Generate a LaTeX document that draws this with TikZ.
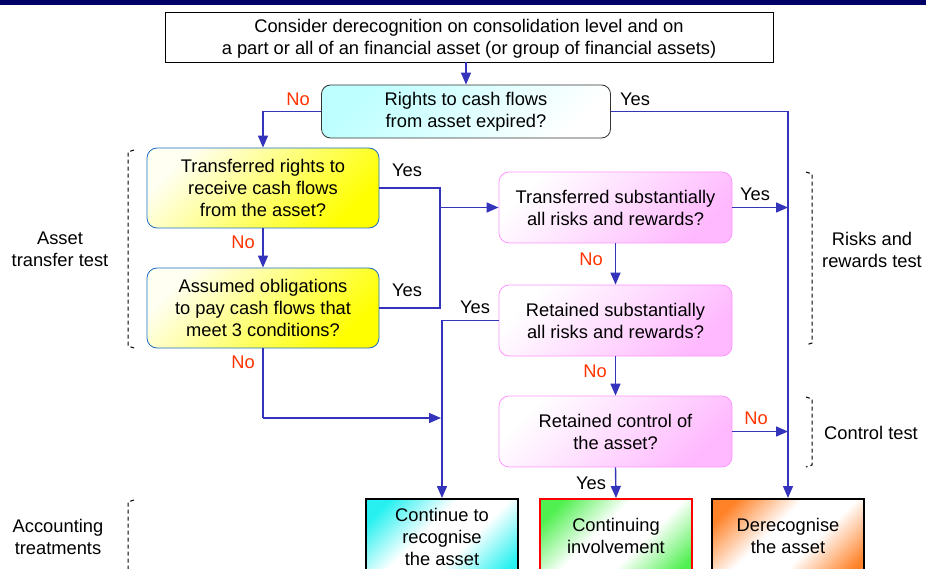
\documentclass[tikz,border=0pt]{standalone}
\usepackage{fontspec}
\setmainfont{Liberation Sans}
\usetikzlibrary{arrows.meta,positioning}
\definecolor{navy}{RGB}{0,0,102}
\definecolor{lineblue}{RGB}{51,51,187}
\definecolor{noRed}{RGB}{255,51,0}
\definecolor{boxBlue}{RGB}{30,110,200}
\definecolor{pinkB}{RGB}{255,150,255}
\definecolor{pinkF}{RGB}{255,185,255}
\definecolor{cyanF}{RGB}{190,255,255}
\definecolor{contCyan}{RGB}{40,240,240}
\definecolor{contGreen}{RGB}{80,240,80}
\definecolor{contOrange}{RGB}{255,130,40}
\pgfdeclareverticalshading{cyanfade}{100bp}{color(0bp)=(contCyan); color(22bp)=(contCyan); color(42bp)=(white); color(58bp)=(white); color(78bp)=(contCyan); color(100bp)=(contCyan)}
\pgfdeclareverticalshading{greenfade}{100bp}{color(0bp)=(contGreen); color(22bp)=(contGreen); color(42bp)=(white); color(58bp)=(white); color(78bp)=(contGreen); color(100bp)=(contGreen)}
\pgfdeclareverticalshading{orangefade}{100bp}{color(0bp)=(contOrange); color(22bp)=(contOrange); color(42bp)=(white); color(58bp)=(white); color(78bp)=(contOrange); color(100bp)=(contOrange)}
\tikzset{
  every node/.style={font=\fontsize{18.3}{22}\selectfont, align=center},
  topbox/.style={draw=black, thick, fill=white, minimum width=608pt, minimum height=50pt, inner sep=0pt},
  cyanbox/.style={draw=black!80, thick, rounded corners=9pt, top color=cyanF, bottom color=white, shading angle=45, minimum width=289pt, minimum height=53pt, inner sep=0pt},
  yelbox/.style={draw=boxBlue, thick, rounded corners=10pt, top color=yellow!5, bottom color=yellow, shading angle=45, minimum width=232pt, minimum height=80pt, inner sep=0pt},
  pinkbox/.style={draw=pinkB, thick, rounded corners=10pt, top color=white, bottom color=pinkF, shading angle=45, minimum width=233pt, minimum height=71pt, inner sep=0pt},
  outbox/.style={line width=2pt, minimum width=152pt, minimum height=84pt, inner sep=0pt, anchor=north, shading angle=45},
  conn/.style={draw=lineblue, line width=1.4pt},
  arr/.style={conn, -{Triangle[length=12pt,width=10pt]}},
  nolab/.style={text=noRed},
  yeslab/.style={text=black},
  brk/.style={draw=black, line width=1pt, dash pattern=on 4pt off 3pt},
  sidelab/.style={text=black}
}
\begin{document}
\begin{tikzpicture}[x=1pt,y=-1pt]
\useasboundingbox (0,0) rectangle (926,569);
\clip (0,0) rectangle (926,569);
\fill[navy] (0,0) rectangle (926,5);

\node[topbox] (top) at (469,37) {};
\node (topT) at (469,39) {Consider derecognition on consolidation level and on\\a part or all of an financial asset (or group of financial assets)};
\node[cyanbox] (rights) at (466,111.5) {Rights to cash flows\\from asset expired?};
\node[yelbox] (y1) at (263,188) {Transferred rights to\\receive cash flows\\from the asset?};
\node[yelbox] (y2) at (263,308) {Assumed obligations\\to pay cash flows that\\meet 3 conditions?};
\node[pinkbox] (p1) at (615.5,207.5) {Transferred substantially\\all risks and rewards?};
\node[pinkbox] (p2) at (615.5,320.5) {Retained substantially\\all risks and rewards?};
\node[pinkbox] (p3) at (615.5,431.5) {Retained control of\\the asset?};

\node[outbox, draw=black, shading=cyanfade] (cont) at (442,498) {};
\node at (442,537) (contT) {Continue to\\recognise\\the asset};
\node[outbox, draw=red, shading=greenfade] (inv) at (616,498) {};
\node at (616,536) (invT) {Continuing\\involvement};
\node[outbox, draw=black, shading=orangefade] (der) at (788,498) {};
\node at (788,536) (derT) {Derecognise\\the asset};

% junction coordinates
\coordinate (jRight) at (788,111.5);
\coordinate (jA) at (440,207.5);
\coordinate (jA1) at (440,188);
\coordinate (jA2) at (440,308);
\coordinate (jB) at (441,418);
\coordinate (jC) at (263,418);
\coordinate (jP1) at (788,207.5);
\coordinate (jP3) at (788,431.5);

% connectors
\draw[arr] (top.south -| rights.north) -- (rights.north);
\draw[arr] (rights.west) -| (y1.north);
\draw[conn] (rights.east) -- (jRight);
\draw[arr] (jRight) -- (der.north);
\draw[arr] (y1.south) -- (y2.north);
\draw[conn] (y1.east) -- (jA1) -- (jA2) -- (y2.east);
\draw[arr] (jA) -- (p1.west);
\draw[arr] (p1.east) -- (jP1);
\draw[arr] (p1.south) -- (p2.north);
\draw[arr] (p2.south) -- (p3.north);
\draw[arr] (p3.east) -- (jP3);
\draw[arr] (p3.south) -- (inv.north);
\draw[arr] (p2.west) -| (cont.north);
\draw[conn] (y2.south) -- (jC);
\draw[arr] (jC) -- (jB);

% labels
\node[nolab] (l1) at (298,99) {No};
\node[yeslab] (l2) at (635,99) {Yes};
\node[nolab] (l3) at (243,242) {No};
\node[yeslab] (l4) at (407,170) {Yes};
\node[yeslab] (l5) at (407,290) {Yes};
\node[yeslab] (l6) at (755,194) {Yes};
\node[nolab] (l7) at (591,259) {No};
\node[yeslab] (l8) at (475,307) {Yes};
\node[nolab] (l9) at (243,362) {No};
\node[nolab] (l10) at (595,371) {No};
\node[nolab] (l11) at (756,418) {No};
\node[yeslab] (l12) at (591,483) {Yes};

% side labels
\node[sidelab] (s1) at (60,249) {Asset\\transfer test};
\node[sidelab] (s2) at (58,537) {Accounting\\treatments};
\node[sidelab] (s3) at (872,250) {Risks and\\rewards test};
\node[sidelab] (s4) at (871,433) {Control test};

% brackets
\draw[brk] (134,150) -- (128,152) -- (128,346) -- (134,348);
\draw[brk] (134,500) -- (128,502) -- (128,575);
\draw[brk] (806,172) -- (812,174) -- (812,343) -- (806,345);
\draw[brk] (806,397) -- (812,399) -- (812,465) -- (806,467);
\end{tikzpicture}
\end{document}
